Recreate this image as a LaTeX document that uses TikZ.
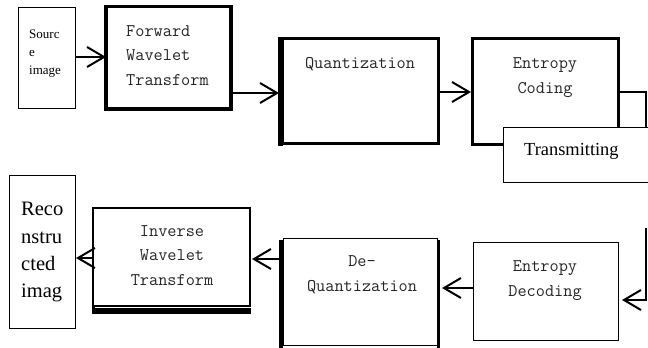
\documentclass[tikz,border=0pt]{standalone}
\usepackage{fontspec}
\newfontfamily\tnr{Liberation Serif}
\usetikzlibrary{arrows.meta}

\tikzset{
  blk/.style={draw, inner sep=0pt, outer sep=0pt, anchor=north west, fill=white},
  mono/.style={inner sep=0pt, anchor=base, text=black!85,
               font=\ttfamily\fontsize{17.8}{24}\selectfont},
  roman/.style={inner sep=0pt, anchor=base west, font=\tnr\fontsize{#1}{#1}\selectfont},
  arr/.style={line width=1.8pt,
              -{Straight Barb[length=17pt,width=20pt,line width=2pt]}},
  link/.style={line width=1.6pt}
}

\begin{document}
\begin{tikzpicture}[x=1pt,y=-1pt]
\useasboundingbox (0,0) rectangle (648,348);

% ---- encoder row ----
\node[blk, line width=1pt,   minimum width=57pt,  minimum height=101pt]   (src)   at (18,7)   {};
\node[blk, line width=3.5pt, minimum width=125pt, minimum height=102.5pt] (fwt)   at (106,6.5) {};
\node[blk, line width=3pt,   minimum width=156pt, minimum height=105pt]   (quant) at (282,38.5) {};
\draw[line width=5pt] (280,37) -- (280,145.5);
\node[blk, line width=3pt,   minimum width=146pt, minimum height=105.5pt] (ec)    at (472,38.5) {};

% link from the coder down into the channel box
\coordinate (ya) at (0,92);
\coordinate (cx) at (646,0);
\draw[link] (ec.east |- ya) -| (cx |- 0,127.5);
\node[blk, line width=1pt,   minimum width=160pt, minimum height=55pt]    (trans) at (503,127) {};

% ---- decoder row ----
\node[blk, line width=1pt,   minimum width=145pt, minimum height=98pt]    (ed)    at (473,242) {};
\node[blk, line width=1pt,   minimum width=154.5pt, minimum height=107pt] (dq)    at (283,238) {};
\draw[line width=4pt] (281,239.5) -- (281,348);
\draw[line width=2.5pt] (438.5,240) -- (438.5,348);
\node[blk, line width=2pt,   minimum width=157pt, minimum height=98pt]    (iwt)   at (93,208) {};
\draw[line width=5.5pt] (92,311) -- (250.5,311);
\draw[line width=3pt] (93.5,306) -- (93.5,313.5);
\node[blk, line width=1pt,   minimum width=66pt,  minimum height=153pt]   (rec)   at (9,175) {};

% ---- arrows ----
\coordinate (y1) at (0,57);
\coordinate (y2) at (0,93);
\coordinate (y3) at (0,92);
\draw[arr] (src.east |- y1) -- (fwt.west |- y1);
\draw[arr] (fwt.east |- y2) -- ([xshift=-3pt]quant.west |- y2);
\draw[arr] (quant.east |- y3) -- ([xshift=-1pt]ec.west |- y3);

\coordinate (rxtop) at (646,228);
\coordinate (yb) at (0,300);
\coordinate (yc) at (0,288);
\coordinate (yd) at (0,259);
\coordinate (ye) at (0,258);
\draw[arr] (rxtop) |- ([xshift=4pt]ed.east |- yb);
\draw[arr] (ed.west |- yc) -- ([xshift=4.5pt]dq.east |- yc);
\draw[arr] ([xshift=-2pt]dq.west |- yd) -- ([xshift=2pt]iwt.east |- yd);
\draw[arr] (iwt.west |- ye) -- ([xshift=1pt]rec.east |- ye);

% ---- labels ----
\node[roman=13] (srcA) at (29,38.5) {Sourc};
\node[roman=13] (srcB) at (29,56.5) {e};
\node[roman=13] (srcC) at (29,74)   {image};

\node[mono, anchor=base west] (fwtA) at (126,36) {Forward};
\node[mono, anchor=base west] (fwtB) at (126,60.5) {Wavelet};
\node[mono, anchor=base west] (fwtC) at (126,85) {Transform};

\node[mono] (quantA) at (360,68) {Quantization};

\node[mono] (ecA) at (545,68) {Entropy};
\node[mono] (ecB) at (545,93) {Coding};

\node[roman=18.4] (transA) at (524,155.5) {Transmitting};

\node[mono] (edA) at (545,271.5) {Entropy};
\node[mono] (edB) at (545,296.5) {Decoding};

\node[mono] (dqA) at (362,266.5) {De-};
\node[mono] (dqB) at (362,291.5) {Quantization};

\node[mono] (iwtA) at (172,236.5) {Inverse};
\node[mono] (iwtB) at (172,260.5) {Wavelet};
\node[mono] (iwtC) at (172,285)   {Transform};

\node[roman=20.5] (recA) at (21,215)   {Reco};
\node[roman=20.5] (recB) at (21,243)   {nstru};
\node[roman=20.5] (recC) at (21,270.5) {cted};
\node[roman=20.5] (recD) at (21,297.5) {imag};
\end{tikzpicture}
\end{document}
